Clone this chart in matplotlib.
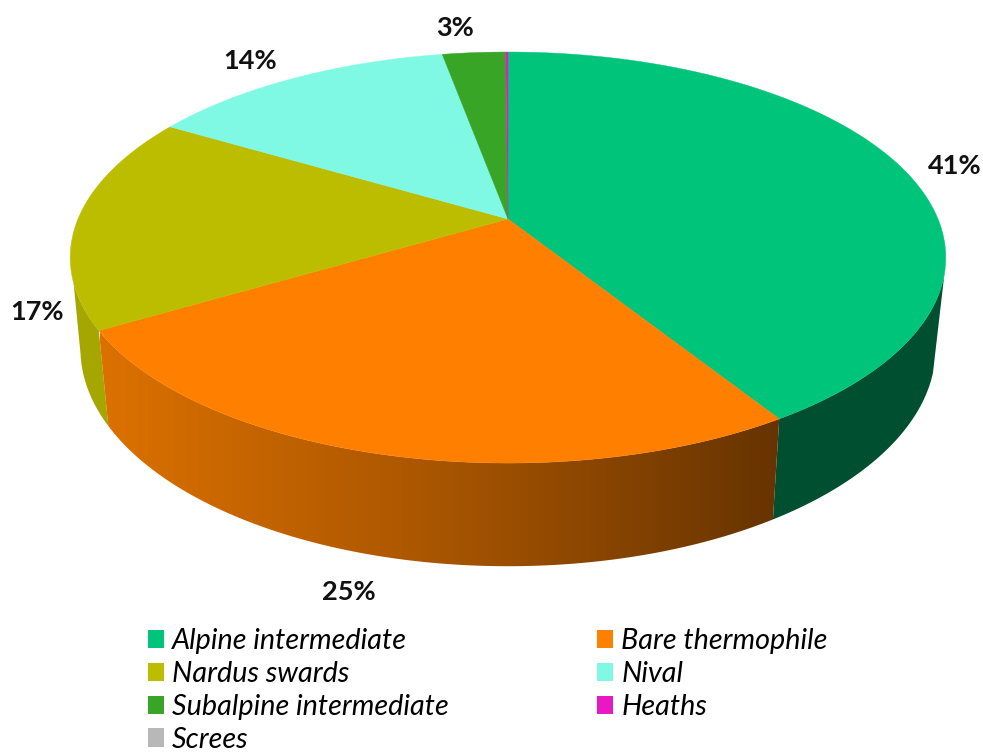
import matplotlib
matplotlib.use("Agg")
import matplotlib.pyplot as plt
import matplotlib.colors as mcolors
from matplotlib.patches import Patch, Polygon
import numpy as np

plt.rcParams['font.family'] = ['Lato', 'DejaVu Sans']

categories = ['Alpine intermediate', 'Bare thermophile', 'Nardus swards', 'Nival',
              'Subalpine intermediate', 'Heaths', 'Screes']
shares = [41.1, 25.4, 17.0, 13.6, 2.8, 0.1, 0.0]
top_colors = ['#00C47A', '#FF8000', '#BDBD00', '#7FF9E3', '#38A526', '#E619C3', '#B8B8B8']
side_colors = ['#004F30', 'none', '#A6A600', '#66C7B6', '#2D841E', '#B8149C', '#939393']
labels = ['41%', '25%', '17%', '14%', '3%']
label_xy = [(955, 166), (349, 592), (37, 312), (250, 61), (455, 28)]

# perspective of the tilted disc, in pixels
CX, K = 508, 0.1875
TOP = dict(b=430, a=198.3, y0=219)
BOTTOM = dict(b=420, a=209.8, y0=308)
# part of each rim where the wall is visible, degrees clockwise from the top
TOP_WALL = np.radians([105, 252.3])
BOTTOM_WALL = np.radians([107, 258])


def project(theta, rim):
    u, v = np.sin(theta), np.cos(theta)
    w = 1 + K * v
    return CX + rim['b'] * u / w, rim['y0'] - rim['a'] * v / w


fig = plt.figure(figsize=(9.83, 7.53), dpi=100)
ax = fig.add_axes([0, 0, 1, 1])

edges = np.radians(np.concatenate([[0], np.cumsum(shares)]) * 3.6)

# side wall first, the top face covers the join
for i, cat in enumerate(categories):
    t0 = np.linspace(max(edges[i], TOP_WALL[0]), min(edges[i + 1], TOP_WALL[1]), 100)
    t1 = np.linspace(max(edges[i], BOTTOM_WALL[0]), min(edges[i + 1], BOTTOM_WALL[1]), 100)
    if shares[i] <= 0 or t1[-1] <= t1[0]:
        continue
    x0, y0 = project(t0, TOP)
    x1, y1 = project(t1[::-1], BOTTOM)
    wall = Polygon(np.c_[np.r_[x0, x1], np.r_[y0, y1]], closed=True, fc=side_colors[i], ec='none', zorder=1)
    ax.add_patch(wall)
    if cat == 'Bare thermophile':
        # dark to the right, as the light falls from the left
        grad = mcolors.LinearSegmentedColormap.from_list('wall', ['#DC7100', '#A85500', '#663300'])
        im = ax.imshow(np.linspace(0, 1, 256)[None, :], cmap=grad, aspect='auto',
                       extent=(100, 782, 570, 330), zorder=1.5)
        im.set_clip_path(wall)

for i, cat in enumerate(categories):
    if shares[i] <= 0:
        continue
    t = np.linspace(edges[i], edges[i + 1], 200)
    x, y = project(t, TOP)
    ax.fill(np.r_[CX, x], np.r_[TOP['y0'], y], color=top_colors[i], lw=0.3, zorder=2)

ax.set_xlim(0, 983)
ax.set_ylim(753, 0)
ax.axis('off')

for txt, (x, y) in zip(labels, label_xy):
    ax.text(x, y, txt, fontsize=19.5, fontweight='bold', color='#111111', ha='center', va='center')

# legend is filled column by column, the reference reads row by row
order = [0, 2, 4, 6, 1, 3, 5]
handles = [Patch(facecolor=top_colors[i], edgecolor='none', label=categories[i]) for i in order]
ax.legend(handles=handles, ncol=2, loc='upper left', bbox_to_anchor=(148 / 983, 1 - 628 / 753),
          frameon=False, borderpad=0, borderaxespad=0, handlelength=0.56, handleheight=0.6,
          handletextpad=0.28, columnspacing=5.15, labelspacing=0.24,
          prop={'family': ['Lato', 'DejaVu Sans'], 'style': 'italic', 'size': 20.7})

plt.savefig('out.png', dpi=100)
